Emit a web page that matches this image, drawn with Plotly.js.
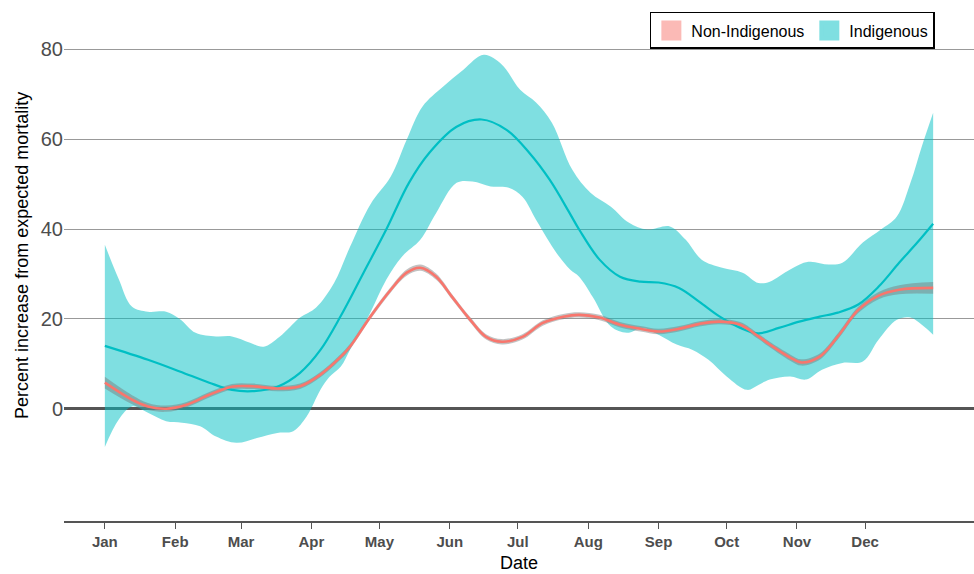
<!DOCTYPE html>
<html>
<head>
<meta charset="utf-8">
<script src="https://cdn.plot.ly/plotly-3.0.1.min.js"></script>
<style>html,body{margin:0;padding:0;background:#fff;}#chart{width:974px;height:574px;}</style>
</head>
<body>
<div id="chart"></div>
<script>
// ---- Data ----
var monthTicks = ['2020-01-01','2020-02-01','2020-03-01','2020-04-01','2020-05-01','2020-06-01','2020-07-01','2020-08-01','2020-09-01','2020-10-01','2020-11-01','2020-12-01'];
var monthLabels = ['Jan','Feb','Mar','Apr','May','Jun','Jul','Aug','Sep','Oct','Nov','Dec'];
var yTicks = [0, 20, 40, 60, 80];

// Indigenous fitted line
var indDates = ['2020-01-01','2020-01-20','2020-02-03','2020-02-16','2020-02-26','2020-03-06','2020-03-17','2020-03-27','2020-04-05','2020-04-14','2020-04-24','2020-05-04','2020-05-14','2020-05-23','2020-06-04','2020-06-15','2020-06-26','2020-07-06','2020-07-15','2020-07-24','2020-07-28','2020-08-06','2020-08-15','2020-08-24','2020-09-01','2020-09-10','2020-09-19','2020-09-28','2020-10-07','2020-10-15','2020-10-24','2020-11-02','2020-11-11','2020-11-19','2020-11-28','2020-12-07','2020-12-16','2020-12-24','2020-12-31'];
var indValues = [14, 10.9, 8.3, 5.8, 4.2, 3.9, 4.9, 8, 13.1, 20.7, 30.3, 39.9, 50.3, 57, 62.8, 64.4, 62.1, 57, 51, 43.4, 39.9, 33.2, 29.4, 28.3, 28.1, 26.9, 23.8, 20.5, 18, 16.8, 18, 19.4, 20.5, 21.4, 23.2, 27.2, 32.5, 37, 41.2];

// Indigenous confidence band, upper edge
var indUpperDates = ['2020-01-01','2020-01-07','2020-01-13','2020-01-20','2020-01-28','2020-02-03','2020-02-10','2020-02-19','2020-02-26','2020-03-05','2020-03-11','2020-03-18','2020-03-27','2020-04-03','2020-04-11','2020-04-18','2020-04-27','2020-05-06','2020-05-13','2020-05-20','2020-05-29','2020-06-07','2020-06-16','2020-06-24','2020-07-02','2020-07-09','2020-07-16','2020-07-25','2020-08-02','2020-08-11','2020-08-19','2020-08-27','2020-09-06','2020-09-13','2020-09-20','2020-09-29','2020-10-08','2020-10-15','2020-10-20','2020-10-29','2020-11-06','2020-11-15','2020-11-21','2020-11-30','2020-12-08','2020-12-15','2020-12-21','2020-12-26','2020-12-31'];
var indUpper = [36.5, 29, 22.7, 21.6, 21.6, 20, 16.9, 16.1, 16.1, 14.7, 13.8, 16, 20.3, 22.5, 28, 36, 45.5, 51.7, 59.9, 67.3, 71.7, 75.5, 78.8, 76.6, 71, 68.2, 63.7, 53.2, 48.1, 45, 41.4, 39.9, 40.6, 37.6, 33.2, 31.4, 30.3, 28, 28.3, 31, 32.7, 32.1, 32.5, 37, 39.9, 42.8, 50.3, 58.4, 65.9];

// Indigenous confidence band, lower edge
var indLowerDates = ['2020-01-01','2020-01-07','2020-01-13','2020-01-20','2020-01-28','2020-02-04','2020-02-12','2020-02-19','2020-02-28','2020-03-08','2020-03-17','2020-03-24','2020-03-30','2020-04-05','2020-04-09','2020-04-14','2020-04-18','2020-04-27','2020-05-04','2020-05-11','2020-05-19','2020-05-26','2020-06-04','2020-06-11','2020-06-19','2020-06-27','2020-07-03','2020-07-09','2020-07-15','2020-07-19','2020-07-24','2020-07-28','2020-08-03','2020-08-11','2020-08-18','2020-08-25','2020-09-01','2020-09-09','2020-09-16','2020-09-23','2020-10-01','2020-10-10','2020-10-15','2020-10-20','2020-10-29','2020-11-05','2020-11-12','2020-11-21','2020-11-30','2020-12-07','2020-12-15','2020-12-21','2020-12-26','2020-12-31'];
var indLower = [-8.5, -2.5, 0.5, -0.9, -2.8, -3.1, -3.9, -6.2, -7.6, -6.5, -5.4, -5, -1.7, 4.2, 7.1, 9.4, 13.1, 21.4, 28.7, 33.9, 37.6, 43.6, 50.3, 50.6, 49.5, 49.2, 47.2, 42.1, 37, 34, 31, 29.4, 24.9, 18.3, 16.9, 18, 16.5, 14.3, 13.1, 10.9, 7.2, 4.2, 5.3, 6.5, 7.2, 6.5, 8.7, 10.2, 10.5, 15.4, 19.8, 20.3, 18.7, 16.5];

// Non-Indigenous fitted line and its (narrow) band half-width
var nonDates = ['2020-01-01','2020-01-13','2020-01-20','2020-01-28','2020-02-06','2020-02-16','2020-02-26','2020-03-06','2020-03-17','2020-03-27','2020-04-05','2020-04-14','2020-04-18','2020-04-27','2020-05-06','2020-05-13','2020-05-19','2020-05-26','2020-06-02','2020-06-10','2020-06-17','2020-06-24','2020-07-03','2020-07-12','2020-07-21','2020-07-28','2020-08-06','2020-08-15','2020-08-24','2020-09-01','2020-09-10','2020-09-19','2020-09-28','2020-10-07','2020-10-15','2020-10-20','2020-10-29','2020-11-03','2020-11-11','2020-11-19','2020-11-28','2020-12-07','2020-12-16','2020-12-31'];
var nonValues = [5.8, 2, 0.5, 0, 0.9, 3.1, 4.9, 5, 4.5, 5, 7.6, 11.6, 13.8, 20.5, 26.5, 30.3, 31.4, 29.4, 24.9, 19.8, 16, 14.9, 16, 19.1, 20.5, 20.9, 20.3, 18.7, 17.8, 17.2, 17.8, 18.9, 19.4, 18.7, 16.1, 14.3, 11.4, 10.3, 11.6, 16.1, 22, 25.2, 26.5, 26.9];
var nonHalfWidth = [1.3, 1.0, 0.8, 0.7, 0.6, 0.6, 0.6, 0.6, 0.6, 0.6, 0.6, 0.6, 0.6, 0.6, 0.6, 0.7, 0.7, 0.7, 0.6, 0.6, 0.6, 0.6, 0.6, 0.6, 0.6, 0.6, 0.6, 0.6, 0.6, 0.6, 0.6, 0.6, 0.6, 0.6, 0.6, 0.6, 0.7, 0.7, 0.7, 0.7, 0.7, 0.8, 1.0, 1.3];

// ---- Build traces ----
var nonUpper = nonValues.map(function (v, i) { return v + nonHalfWidth[i]; });
var nonLower = nonValues.map(function (v, i) { return v - nonHalfWidth[i]; });

var indBandLow = {
  x: indLowerDates, y: indLower, type: 'scatter', mode: 'lines',
  line: {width: 0, shape: 'spline', smoothing: 1, color: 'rgba(0,0,0,0)'},
  hoverinfo: 'skip', showlegend: false
};
var indBandHigh = {
  x: indUpperDates, y: indUpper, type: 'scatter', mode: 'lines', fill: 'tonexty',
  fillcolor: 'rgba(0,191,196,0.5)',
  line: {width: 0, shape: 'spline', smoothing: 1, color: 'rgba(0,0,0,0)'},
  hoverinfo: 'skip', showlegend: false
};
var nonBandLow = {
  x: nonDates, y: nonLower, type: 'scatter', mode: 'lines',
  line: {width: 0, shape: 'spline', smoothing: 1, color: 'rgba(0,0,0,0)'},
  hoverinfo: 'skip', showlegend: false
};
var nonBandHigh = {
  x: nonDates, y: nonUpper, type: 'scatter', mode: 'lines', fill: 'tonexty',
  fillcolor: 'rgba(120,120,120,0.45)',
  line: {width: 0, shape: 'spline', smoothing: 1, color: 'rgba(0,0,0,0)'},
  hoverinfo: 'skip', showlegend: false
};
var indLine = {
  x: indDates, y: indValues, type: 'scatter', mode: 'lines',
  line: {color: '#00BFC4', width: 2.2, shape: 'spline', smoothing: 1},
  showlegend: false
};
var nonLine = {
  x: nonDates, y: nonValues, type: 'scatter', mode: 'lines',
  line: {color: '#F8766D', width: 2.6, shape: 'spline', smoothing: 1},
  showlegend: false
};
var legNon = {
  x: [null], y: [null], type: 'scatter', mode: 'markers', name: 'Non-Indigenous',
  marker: {symbol: 'square', size: 16, color: '#FBBAB6', line: {color: '#FBBAB6', width: 4}}, showlegend: true
};
var legInd = {
  x: [null], y: [null], type: 'scatter', mode: 'markers', name: 'Indigenous',
  marker: {symbol: 'square', size: 16, color: '#7FDFE1', line: {color: '#7FDFE1', width: 4}}, showlegend: true
};

var layout = {
  width: 974, height: 574,
  margin: {l: 64, r: 0, t: 27, b: 53},
  paper_bgcolor: '#ffffff', plot_bgcolor: '#ffffff',
  font: {family: 'Liberation Sans, Arial, sans-serif', color: '#000'},
  xaxis: {
    type: 'date',
    range: ['2019-12-14', '2021-01-18'],
    tickvals: monthTicks, ticktext: monthLabels,
    ticks: 'outside', ticklen: 6, tickwidth: 1, tickcolor: '#555',
    tickfont: {family: 'Liberation Sans Narrow, Arial Narrow, sans-serif', size: 15, color: '#4d4d4d', weight: 'bold'},
    showgrid: false, zeroline: false,
    showline: true, linecolor: '#555', linewidth: 2,
    fixedrange: true
  },
  yaxis: {
    range: [-25, 85],
    tickvals: yTicks, ticktext: yTicks.map(String),
    ticks: '',
    tickfont: {family: 'Liberation Sans, Arial, sans-serif', size: 20, color: '#4d4d4d'},
    showgrid: true, gridcolor: '#999', gridwidth: 1,
    zeroline: true, zerolinecolor: '#555', zerolinewidth: 2.5,
    showline: false, fixedrange: true
  },
  showlegend: true,
  legend: {
    orientation: 'h', x: 0.957, xanchor: 'right', y: 1.0304, yanchor: 'top',
    bordercolor: '#000', borderwidth: 1.5, bgcolor: '#fff',
    font: {family: 'Liberation Sans, Arial, sans-serif', size: 16, color: '#000'},
    itemwidth: 30, traceorder: 'normal'
  },
  annotations: [
    {text: 'Percent increase from expected mortality', xref: 'paper', yref: 'paper',
     x: -0.0462, y: 0.5385, xanchor: 'center', yanchor: 'middle', textangle: -90,
     showarrow: false, font: {size: 18, color: '#000'}},
    {text: 'Date', xref: 'paper', yref: 'paper', x: 0.5, y: -0.085,
     xanchor: 'center', yanchor: 'middle', showarrow: false, font: {size: 18, color: '#000'}}
  ]
};

Plotly.newPlot('chart', [indBandLow, indBandHigh, nonBandLow, nonBandHigh, indLine, nonLine, legNon, legInd], layout, {displayModeBar: false, staticPlot: true});
</script>
</body>
</html>
